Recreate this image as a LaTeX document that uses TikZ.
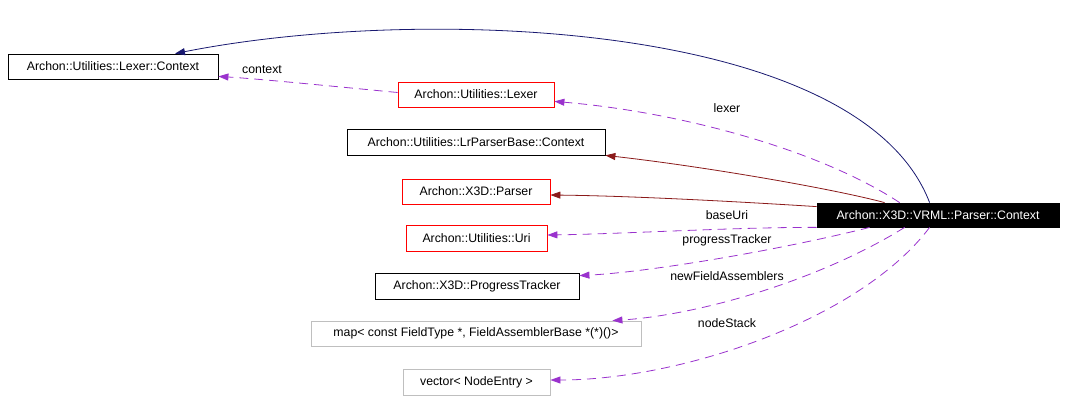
\documentclass[tikz,border=0pt]{standalone}
\usepackage{fontspec}
\setmainfont{Liberation Sans}
\usetikzlibrary{arrows.meta,calc}
\definecolor{navyc}{HTML}{191970}
\definecolor{redc}{HTML}{8B1A1A}
\definecolor{purc}{HTML}{9A32CD}
\definecolor{grayc}{HTML}{BFBFBF}
\begin{document}
\begin{tikzpicture}[x=1pt,y=-1pt,
  font=\fontsize{12.3}{14}\selectfont,
  cls/.style={draw=black,line width=0.8pt,inner sep=0pt,fill=white},
  redbox/.style={cls,draw=red},
  graybox/.style={cls,draw=grayc},
  tip/.style={-{Triangle[length=10pt,width=7pt]}},
  pub/.style={tip,draw=navyc,line width=0.8pt},
  priv/.style={tip,draw=redc,line width=0.8pt},
  use/.style={tip,draw=purc,line width=0.8pt,dash pattern=on 9pt off 6pt},
  lbl/.style={inner sep=0pt}]
\useasboundingbox (0,0) rectangle (1067,412);
\node[cls,minimum width=210,minimum height=25] (lc) at (113,66.5) {Archon::Utilities::Lexer::Context};
\node[redbox,minimum width=156,minimum height=25] (lx) at (476,94.5) {Archon::Utilities::Lexer};
\node[cls,minimum width=258,minimum height=26] (lr) at (476,142) {Archon::Utilities::LrParserBase::Context};
\node[redbox,minimum width=148,minimum height=25] (xp) at (476,191.5) {Archon::X3D::Parser};
\node[redbox,minimum width=141,minimum height=26] (uri) at (476.5,238) {Archon::Utilities::Uri};
\node[cls,minimum width=204,minimum height=26] (pt) at (477,286) {Archon::X3D::ProgressTracker};
\node[graybox,minimum width=330,minimum height=25] (map) at (476,333.5) {map< const FieldType *, FieldAssemblerBase *(*)()>};
\node[graybox,minimum width=147,minimum height=26] (vec) at (476.5,382) {vector< NodeEntry >};
\node[cls,fill=black,text=white,minimum width=242,minimum height=24] (ctx) at (938,215) {Archon::X3D::VRML::Parser::Context};

% inheritance
\draw[pub] ([xshift=113]ctx.north west) .. controls (860,20) and (420,5) .. ([xshift=62]lc.north);
\draw[priv] ([xshift=68]ctx.north west) .. controls (830,188) and (700,166) .. (lr.south east);
\draw[priv] ([yshift=-4]ctx.north west) .. controls (760,203) and (640,196) .. ([yshift=-3.5]xp.east);

% usage
\draw[use] ([yshift=2]lx.west) .. controls (330,86) and (260,79) .. ([yshift=3]lc.south east);
\draw[use] ([xshift=83]ctx.north west) .. controls (820,150) and (680,112) .. ([yshift=6]lx.south east);
\draw[use] (ctx.south west) .. controls (740,227) and (620,234) .. ([yshift=3]uri.east);
\draw[use] ([xshift=53]ctx.south west) .. controls (780,250) and (650,272) .. ([yshift=-3]pt.north east);
\draw[use] ([xshift=88]ctx.south west) .. controls (820,280) and (700,315) .. ([xshift=-29]map.north east);
\draw[use] ([xshift=113]ctx.south west) .. controls (860,320) and (680,380) .. ([yshift=2]vec.east);

\node[lbl] (l1) at (262,70) {context};
\node[lbl] (l2) at (727,108) {lexer};
\node[lbl] (l3) at (727,215) {baseUri};
\node[lbl] (l4) at (727,240) {progressTracker};
\node[lbl] (l5) at (727,276) {newFieldAssemblers};
\node[lbl] (l6) at (727,323) {nodeStack};
\end{tikzpicture}
\end{document}
